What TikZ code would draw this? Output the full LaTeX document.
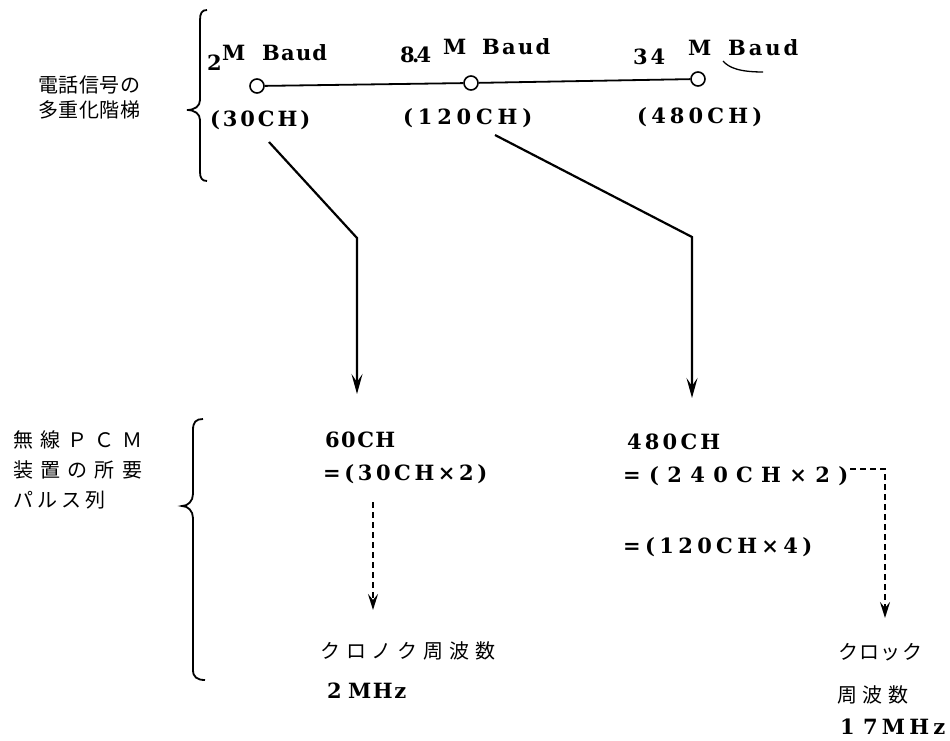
\documentclass[tikz,border=0pt]{standalone}
\usepackage{fontspec}
\setmainfont{DejaVu Serif}
\newfontfamily\jp{Noto Sans CJK JP}
\usetikzlibrary{arrows.meta}
\makeatletter
\newlength\spr@w
\newcount\spr@n
\newcommand\sprto[2]{%
 \settowidth\spr@w{#2}%
 \spr@n=0 \@tfor\spr@t:=#2\do{\advance\spr@n 1 }%
 \advance\spr@n -1
 \ifnum\spr@n<1 \spr@n=1 \fi
 \spr@w=\dimexpr(#1pt-\spr@w)/\spr@n\relax
 \def\spr@k{}\@tfor\spr@t:=#2\do{\spr@k\spr@t\def\spr@k{\kern\spr@w}}}
\makeatother
\tikzset{
 lbl/.style={inner sep=0pt, anchor=west, font=\fontsize{21}{25}\selectfont\bfseries},
 jlbl/.style={inner sep=0pt, anchor=west, font=\jp\fontsize{20}{24}\selectfont},
 ln/.style={line width=1.8pt},
 arr/.style={line width=2.2pt, -{Stealth[length=20pt,width=11pt,inset=8pt]}},
 darr/.style={line width=2.4pt, dash pattern=on 6pt off 4pt, -{Stealth[length=16pt,width=10pt,inset=6pt]}},
 dot/.style={circle, draw, line width=1.6pt, fill=white, minimum size=14pt, inner sep=0pt},
 brace/.style={line width=1.8pt}
}
\begin{document}
\begin{tikzpicture}[x=1pt,y=-1pt]
\useasboundingbox (0,0) rectangle (950,741);
% left labels
\node[jlbl] (l1) at (38,85) {\sprto{102}{電話信号の}};
\node[jlbl] (l2) at (38,110) {\sprto{102}{多重化階梯}};
\node[jlbl] (l3) at (13,440) {\sprto{129}{無線ＰＣＭ}};
\node[jlbl] (l4) at (13,470) {\sprto{129}{装置の所要}};
\node[jlbl] (l5) at (13,500) {\sprto{92}{パルス列}};
% braces
\draw[brace] (207,10) .. controls (202,10) and (200,13) .. (200,20) -- (200,100)
  .. controls (200,106) and (195,110) .. (187,110)
  .. controls (195,110) and (200,114) .. (200,120) -- (200,172)
  .. controls (200,178) and (202,181) .. (207,181);
\draw[brace] (203,419) .. controls (196,419) and (193,422) .. (193,430) -- (193,494)
  .. controls (193,501) and (188,506) .. (182,506)
  .. controls (188,506) and (193,511) .. (193,518) -- (193,670)
  .. controls (193,677) and (197,680) .. (205,680);
% top row
\node[lbl] (two) at (207,63) {2};
\node[lbl] (m1) at (222,53) {M};
\node[lbl] (b1) at (262,53) {\sprto{65}{Baud}};
\node[lbl] (e4) at (400,55) {\sprto{31}{8.4}};
\node[lbl] (m2) at (443,47) {M};
\node[lbl] (b2) at (482,47) {\sprto{68}{Baud}};
\node[lbl] (t34) at (633,57) {\sprto{32}{34}};
\node[lbl] (m3) at (688,48) {M};
\node[lbl] (b3) at (728,48) {\sprto{70}{Baud}};
\draw[line width=1.3pt] (723,61) .. controls (729,68) and (740,72) .. (763,72);
\node[dot] (c1) at (257,86) {};
\node[dot] (c2) at (471,83) {};
\node[dot] (c3) at (698,79) {};
\draw[ln] (c1) -- (c2) -- (c3);
\node[lbl] (ch30) at (210,120) {\sprto{100}{(30CH)}};
\node[lbl] (ch120) at (403,118) {\sprto{129}{(120CH)}};
\node[lbl] (ch480) at (637,117) {\sprto{125}{(480CH)}};
% solid arrows
\coordinate (s1) at (269,142);
\coordinate (k1) at (357,238);
\coordinate (e1) at (357,394);
\draw[arr] (s1) -- (k1) -- (e1);
\coordinate (s2) at (495,135);
\coordinate (k2) at (692,237);
\coordinate (e2) at (692,398);
\draw[arr] (s2) -- (k2) -- (e2);
% bottom left column
\node[lbl] (n60) at (325,440) {\sprto{70}{60CH}};
\node[lbl] (n60b) at (323,474) {\sprto{164}{=(30CH×2)}};
\coordinate (d1s) at (373,502);
\coordinate (d1e) at (373,610);
\draw[darr] (d1s) -- (d1e);
\node[jlbl] (clk1) at (320,651) {\sprto{175}{クロノク周波数}};
\node[lbl] (mhz1a) at (327,691) {2};
\node[lbl] (mhz1) at (348,691) {\sprto{58}{MHz}};
% bottom right column
\node[lbl] (n480) at (627,442) {\sprto{93}{480CH}};
\node[lbl] (n240) at (623,476) {\sprto{225}{=(240CH×2)}};
\node[lbl] (n120) at (623,547) {\sprto{189}{=(120CH×4)}};
\coordinate (d2s) at (850,469);
\coordinate (d2k) at (885,469);
\coordinate (d2e) at (885,618);
\draw[darr] (d2s) -- (d2k) -- (d2e);
\node[jlbl] (clk2) at (838,652) {\sprto{84}{クロック}};
\node[jlbl] (frq2) at (837,695) {\sprto{71}{周波数}};
\node[lbl] (mhz2a) at (840,727) {1};
\node[lbl] (mhz2) at (863,727) {\sprto{82}{7MHz}};
\end{tikzpicture}
\end{document}
